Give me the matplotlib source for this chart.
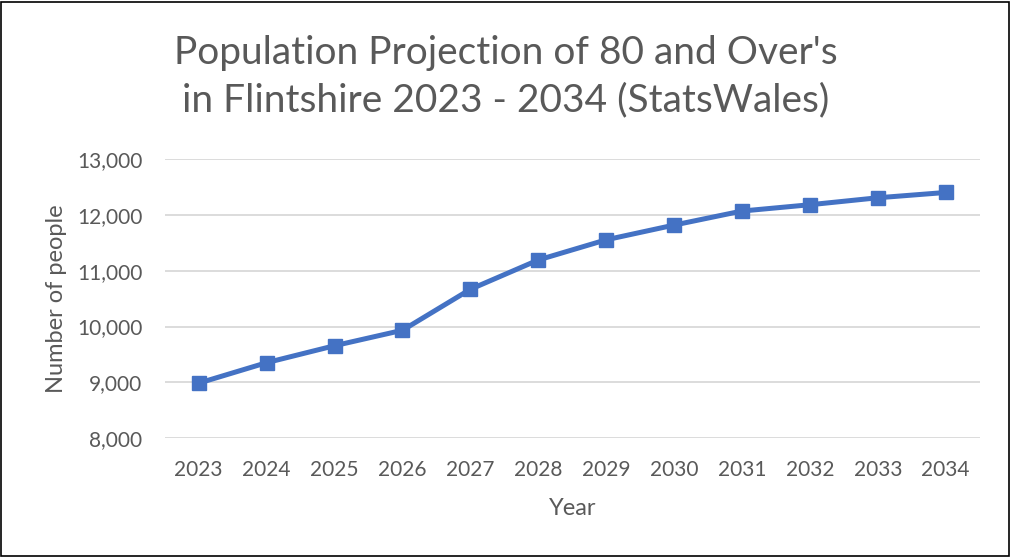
import matplotlib.pyplot as plt
from matplotlib.patches import Rectangle

years = ["2023", "2024", "2025", "2026", "2027", "2028",
         "2029", "2030", "2031", "2032", "2033", "2034"]
people = [8985, 9352, 9656, 9933, 10668, 11194,
          11556, 11820, 12072, 12185, 12310, 12405]
y_ticks = [8000, 9000, 10000, 11000, 12000, 13000]

plt.rcParams["font.family"] = ["Lato", "DejaVu Sans"]
TEXT = "#595959"

fig = plt.figure(figsize=(10.11, 5.57), dpi=100)
ax = fig.add_axes([0.163, 0.2136, 0.806, 0.5004])

x = range(len(years))
ax.plot(x, people, color="#4472C4", linewidth=3.6, marker="s",
        markersize=10.5, zorder=3)

ax.set_xlim(-0.5, len(years) - 0.5)
ax.set_ylim(8000, 13000)
ax.set_xticks(list(x))
ax.set_xticklabels(years)
ax.set_yticks(y_ticks)
ax.set_yticklabels([f"{v:,}" for v in y_ticks])
ax.grid(axis="y", color="#D9D9D9", linewidth=1.3)
ax.set_axisbelow(True)
for s in ax.spines.values():
    s.set_visible(False)
ax.tick_params(axis="x", length=0, labelsize=15, labelcolor=TEXT, pad=16)
ax.tick_params(axis="y", length=0, labelsize=15, labelcolor=TEXT, pad=16)

ax.set_xlabel("Year", fontsize=17, color=TEXT, labelpad=13)
ax.set_ylabel("Number of people", fontsize=17, color=TEXT, labelpad=7)

fig.text(0.5, 0.862, "Population Projection of 80 and Over's\nin Flintshire 2023 - 2034 (StatsWales)",
         ha="center", va="center", fontsize=28, color=TEXT, linespacing=1.4)

fig.patches.append(Rectangle((0.001, 0.002), 0.997, 0.995, transform=fig.transFigure,
                             fill=False, edgecolor="black", linewidth=1.2))

fig.savefig("out.png", dpi=100)
